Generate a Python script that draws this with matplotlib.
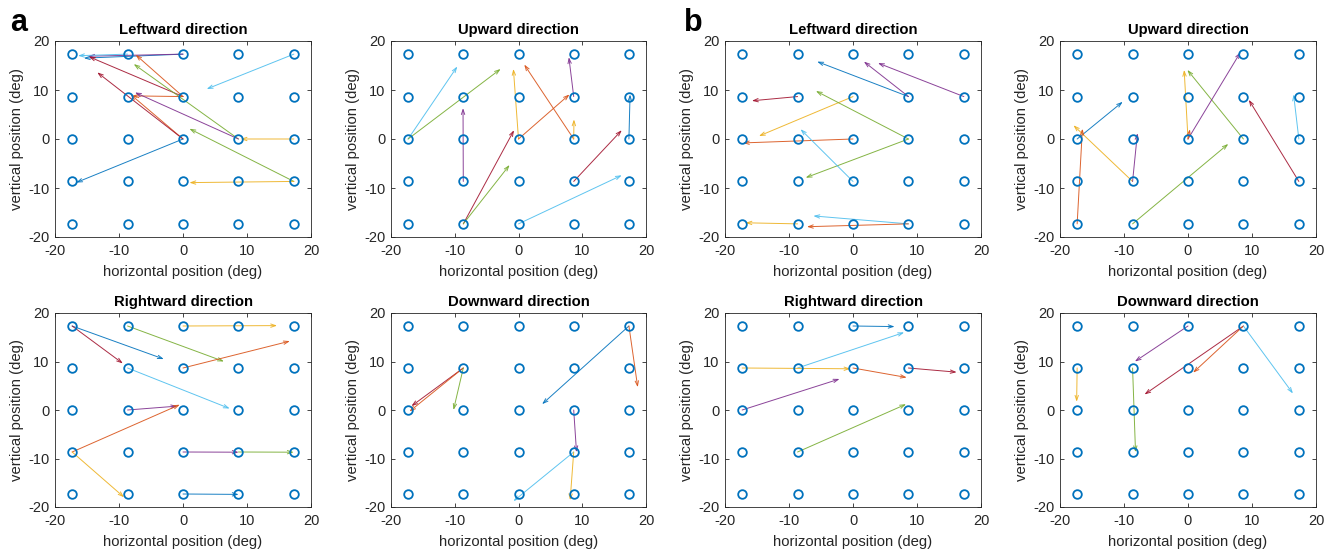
import matplotlib
matplotlib.use("Agg")
import matplotlib.pyplot as plt

plt.rcParams['font.family'] = ['Liberation Sans', 'DejaVu Sans']
plt.rcParams['axes.unicode_minus'] = False

# MATLAB default colour order
C = {'b': '#0072BD', 'o': '#D95319', 'y': '#EDB120', 'p': '#7E2F8E',
     'g': '#77AC30', 'c': '#4DBEEE', 'r': '#A2142F'}

# target grid (deg)
grid_pos = [-17.32, -8.66, 0.0, 8.66, 17.32]

# arrows: (x start, y start, x end, y end, colour)
left_a = [
    (0, 17.32, -15.5, 16.5, 'b'),
    (0, 17.32, -14.8, 16.9, 'p'),
    (-8.66, 17.32, -16.4, 17.0, 'c'),
    (17.32, 17.32, 3.7, 10.2, 'c'),
    (0, 8.66, -14.7, 16.8, 'r'),
    (0, 8.66, -7.4, 17.2, 'o'),
    (0, 8.66, -7.9, 8.8, 'o'),
    (0, 0, -8.2, 9.1, 'o'),
    (0, 0, -13.4, 13.6, 'r'),
    (8.66, 0, -7.7, 15.3, 'g'),
    (8.66, 0, -7.5, 9.5, 'p'),
    (17.32, 0, 9.0, 0, 'y'),
    (17.32, -8.66, 1.0, 2.1, 'g'),
    (17.32, -8.66, 1.0, -8.9, 'y'),
    (0, 0, -16.7, -8.9, 'b'),
]
up_a = [
    (-17.32, 0, -9.6, 14.8, 'c'),
    (-17.32, 0, -2.8, 14.3, 'g'),
    (-8.66, -8.66, -8.7, 6.3, 'p'),
    (0, 0, -0.8, 14.3, 'y'),
    (8.66, 0, 0.9, 15.2, 'o'),
    (0, 0, 8.0, 9.1, 'o'),
    (8.66, 8.66, 7.9, 16.7, 'p'),
    (8.66, 0, 8.7, 4.0, 'y'),
    (17.32, 0, 17.5, 9.1, 'b'),
    (-8.66, -17.32, -0.7, 1.8, 'r'),
    (-8.66, -17.32, -1.4, -5.3, 'g'),
    (8.66, -8.66, 16.2, 1.8, 'r'),
    (0, -17.32, 16.2, -7.4, 'c'),
]
right_a = [
    (-17.32, 17.32, -3.0, 10.5, 'b'),
    (-17.32, 17.32, -9.4, 9.6, 'r'),
    (-8.66, 17.32, 6.4, 10.0, 'g'),
    (0, 17.32, 14.7, 17.4, 'y'),
    (0, 8.66, 16.7, 14.2, 'o'),
    (-8.66, 8.66, 7.3, 0.3, 'c'),
    (-8.66, 0, -0.9, 0.8, 'p'),
    (-17.32, -8.66, -0.5, 1.1, 'o'),
    (-17.32, -8.66, -9.2, -18.0, 'y'),
    (0, -8.66, 8.7, -8.7, 'p'),
    (8.66, -8.66, 17.3, -8.7, 'g'),
    (0, -17.32, 8.7, -17.4, 'b'),
]
down_a = [
    (-8.66, 8.66, -16.8, 0.8, 'r'),
    (-8.66, 8.66, -17.1, -0.3, 'o'),
    (-8.66, 8.66, -10.2, 0.0, 'g'),
    (17.32, 17.32, 3.7, 1.2, 'b'),
    (17.32, 17.32, 18.7, 4.7, 'o'),
    (8.66, 0, 9.1, -8.7, 'p'),
    (8.66, -8.66, -0.8, -18.8, 'c'),
    (8.66, -8.66, 8.1, -18.6, 'y'),
]
left_b = [
    (8.66, 8.66, -5.6, 15.8, 'b'),
    (8.66, 8.66, 1.7, 15.8, 'p'),
    (17.32, 8.66, 3.9, 15.5, 'p'),
    (-8.66, 8.66, -15.8, 7.8, 'r'),
    (0, 8.66, -14.7, 0.6, 'y'),
    (8.66, 0, -5.8, 9.8, 'g'),
    (8.66, 0, -7.4, -7.9, 'g'),
    (0, 0, -17.2, -0.8, 'o'),
    (0, -8.66, -8.2, 2.0, 'c'),
    (8.66, -17.32, -6.2, -15.7, 'c'),
    (8.66, -17.32, -7.2, -17.9, 'o'),
    (-8.66, -17.32, -16.8, -17.1, 'y'),
]
up_b = [
    (-17.32, 0, -10.2, 7.6, 'b'),
    (-8.66, -8.66, -17.9, 2.8, 'y'),
    (-17.32, -17.32, -16.5, 2.1, 'o'),
    (-8.66, -8.66, -7.9, 1.2, 'p'),
    (0, 0, -0.6, 14.1, 'y'),
    (8.66, 0, -0.1, 14.1, 'g'),
    (0, 0, 8.2, 17.7, 'p'),
    (0, 0, 0.3, 2.0, 'o'),
    (-8.66, -17.32, 6.3, -1.0, 'g'),
    (17.32, -8.66, 9.5, 8.0, 'r'),
    (17.32, 0, 16.5, 9.1, 'c'),
]
right_b = [
    (0, 17.32, 6.5, 17.2, 'b'),
    (-8.66, 8.66, 8.0, 16.0, 'c'),
    (-17.32, 8.66, -0.4, 8.5, 'y'),
    (0, 8.66, 8.4, 6.7, 'o'),
    (8.66, 8.66, 16.2, 7.8, 'r'),
    (-17.32, 0, -2.1, 6.4, 'p'),
    (-8.66, -8.66, 8.3, 1.2, 'g'),
]
down_b = [
    (0, 17.32, -8.3, 10.0, 'p'),
    (8.66, 17.32, -6.8, 3.2, 'r'),
    (8.66, 17.32, 0.8, 7.7, 'o'),
    (8.66, 17.32, 16.4, 3.4, 'c'),
    (-17.32, 8.66, -17.4, 1.7, 'y'),
    (-8.66, 8.66, -8.2, -8.7, 'g'),
]

titles = ['Leftward direction', 'Upward direction',
          'Rightward direction', 'Downward direction']
ticks = [-20, -10, 0, 10, 20]
txt = '#262626'

W, H = 1338, 551
fig = plt.figure(figsize=(W / 100, H / 100), dpi=100)

# axes boxes in pixels
lefts = [55, 391, 725, 1060]
widths = [256, 255, 256, 256]
rows = [(41, 237), (313, 507)]

panels = [
    (0, 0, left_a, titles[0]), (1, 0, up_a, titles[1]),
    (0, 1, right_a, titles[2]), (1, 1, down_a, titles[3]),
    (2, 0, left_b, titles[0]), (3, 0, up_b, titles[1]),
    (2, 1, right_b, titles[2]), (3, 1, down_b, titles[3]),
]

for col, row, arrows, title in panels:
    top, bot = rows[row]
    ax = fig.add_axes([lefts[col] / W, 1 - bot / H,
                       widths[col] / W, (bot - top) / H])
    for x0, y0, x1, y1, c in arrows:
        ax.annotate('', xy=(x1, y1), xytext=(x0, y0),
                    arrowprops=dict(arrowstyle='->,head_length=0.35,head_width=0.12',
                                    color=C[c], lw=0.7, shrinkA=0, shrinkB=0,
                                    alpha=0.9))
    gx = [x for y in grid_pos for x in grid_pos]
    gy = [y for y in grid_pos for x in grid_pos]
    ax.plot(gx, gy, 'o', ms=6.2, mfc='none', mec=C['b'], mew=1.3, zorder=5)
    ax.set_xlim(-20, 20)
    ax.set_ylim(-20, 20)
    ax.set_xticks(ticks)
    ax.set_yticks(ticks)
    ax.tick_params(direction='in', length=3, width=0.6, labelsize=10.5,
                   colors=txt, top=True, right=True)
    ax.tick_params(axis='x', pad=5)
    ax.tick_params(axis='y', pad=4)
    for s in ax.spines.values():
        s.set_linewidth(0.6)
        s.set_color('#262626')
    ax.set_xlabel('horizontal position (deg)', fontsize=10.7, color=txt, labelpad=5)
    ax.set_ylabel('vertical position (deg)', fontsize=10.7, color=txt, labelpad=3)
    ax.set_title(title, fontsize=10.7, fontweight='bold', pad=5)

fig.text(19 / W, 1 - 23 / H, 'a', fontsize=22, fontweight='bold',
         ha='center', va='center')
fig.text(693 / W, 1 - 23 / H, 'b', fontsize=22, fontweight='bold',
         ha='center', va='center')

fig.savefig('out.png', dpi=100)
